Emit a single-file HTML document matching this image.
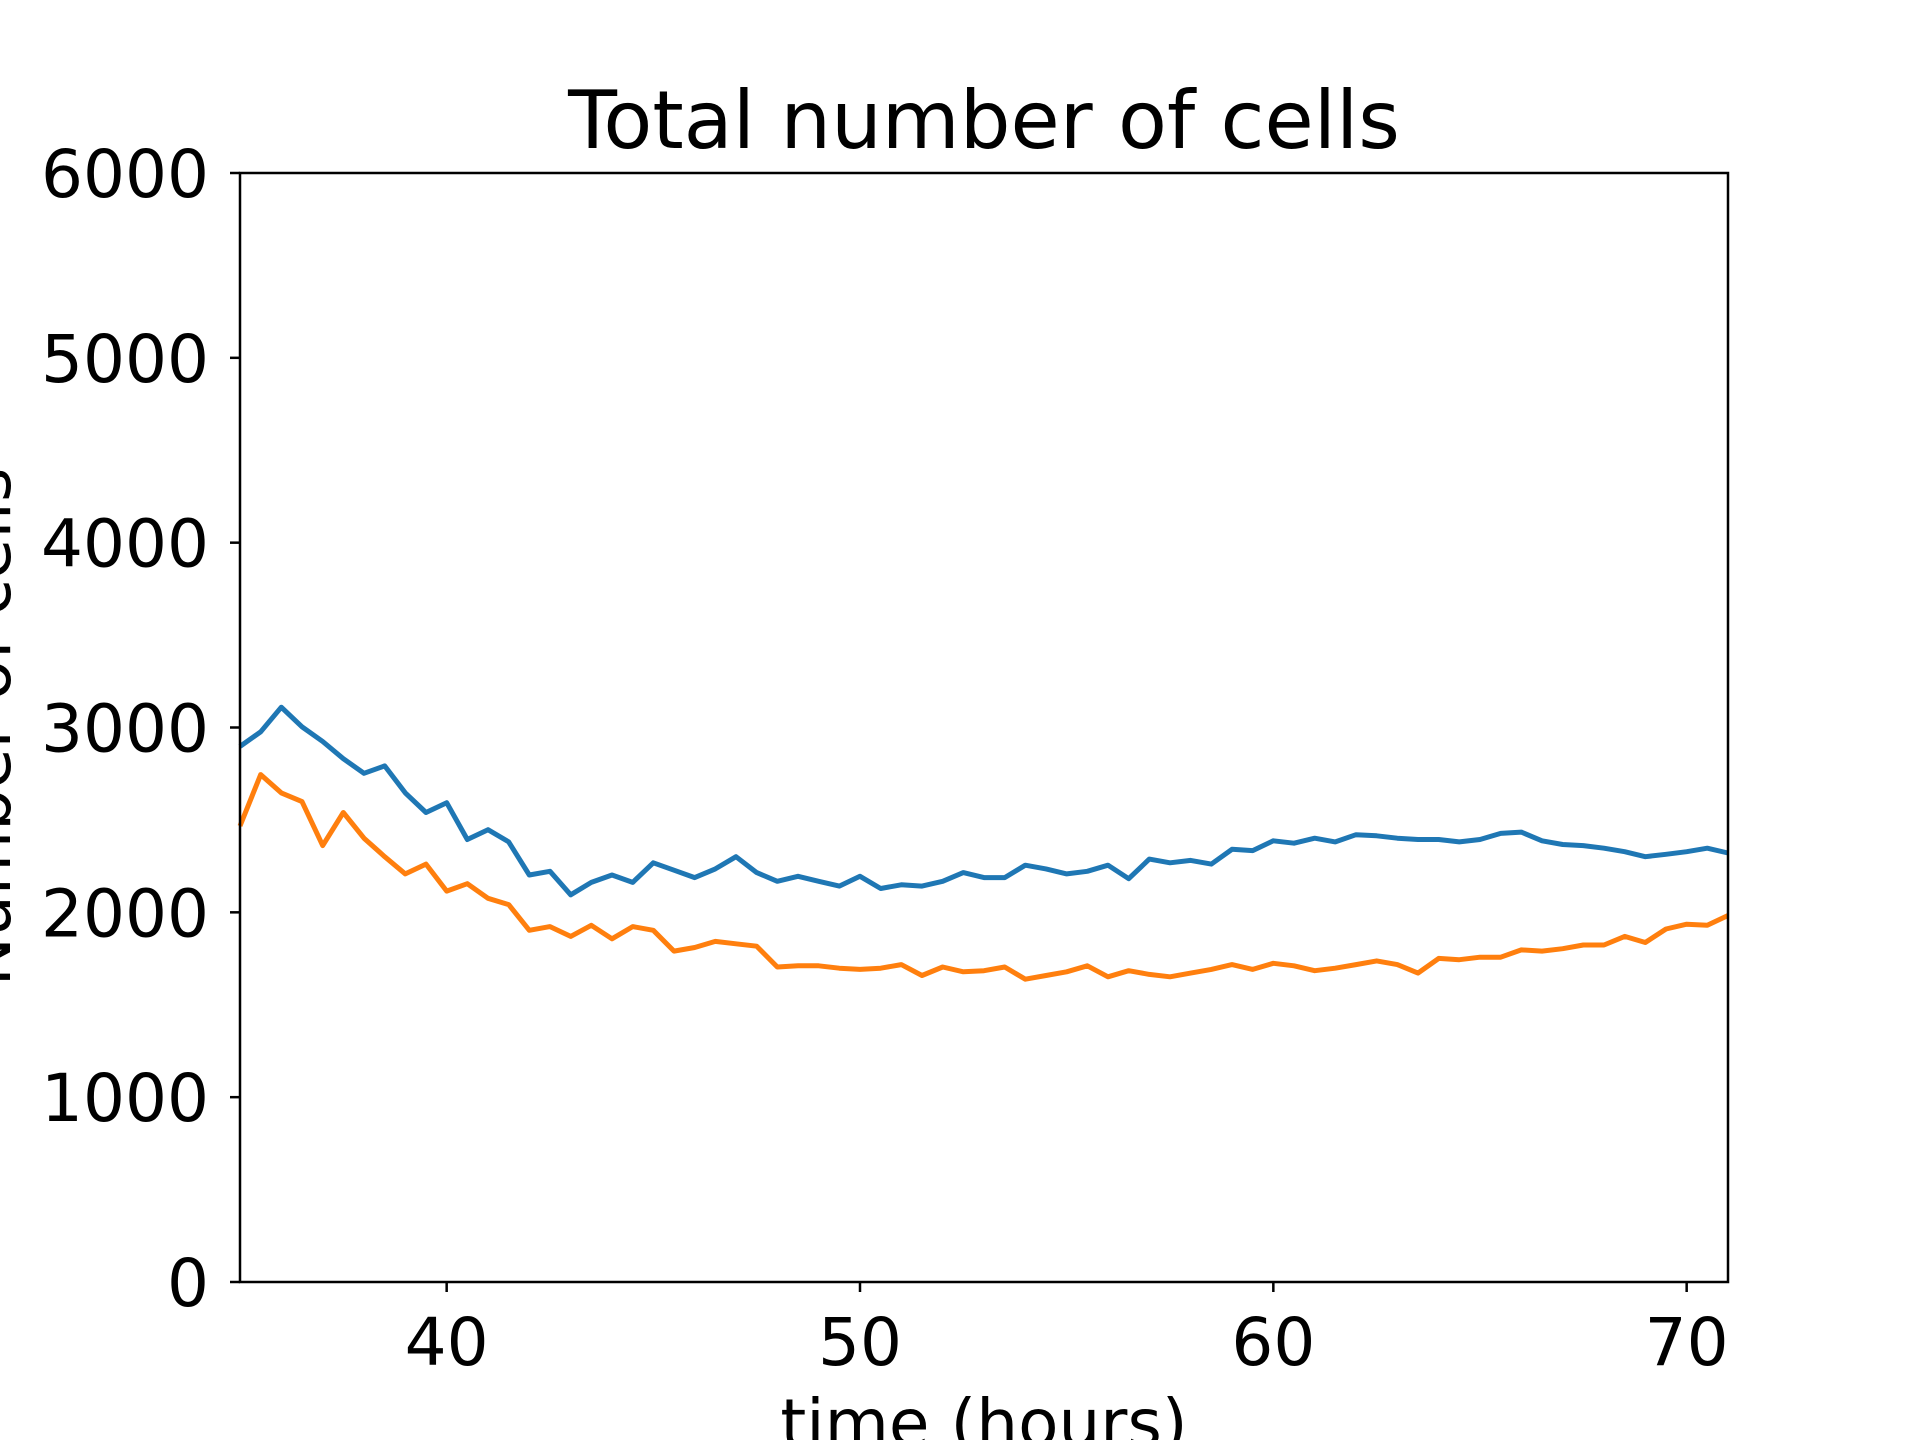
<!DOCTYPE html>
<html><head><meta charset="utf-8"><style>
html,body{margin:0;padding:0;background:#fff;}
svg{display:block;font-family:"DejaVu Sans","Liberation Sans",sans-serif;}
</style></head><body>
<svg id="chart" width="1920" height="1440" viewBox="0 0 1920 1440" xmlns="http://www.w3.org/2000/svg">
<rect width="1920" height="1440" fill="#fff"/>
<text x="984" y="148" font-size="80" text-anchor="middle">Total number of cells</text>
<text x="984" y="1446" font-size="66" text-anchor="middle">time (hours)</text>
<text transform="translate(10,727) rotate(-90)" font-size="66" text-anchor="middle">Number of cells</text>
<g id="ticks"></g>
<g id="series"></g>
<rect x="240" y="173" width="1488" height="1109" fill="none" stroke="#000" stroke-width="2.5"/>
</svg>
<script>
const xTicks = [40, 50, 60, 70];
const yTicks = [0, 1000, 2000, 3000, 4000, 5000, 6000];
const times = [35,35.5,36,36.5,37,37.5,38,38.5,39,39.5,40,40.5,41,41.5,42,42.5,43,43.5,44,44.5,45,45.5,46,46.5,47,47.5,48,48.5,49,49.5,50,50.5,51,51.5,52,52.5,53,53.5,54,54.5,55,55.5,56,56.5,57,57.5,58,58.5,59,59.5,60,60.5,61,61.5,62,62.5,63,63.5,64,64.5,65,65.5,66,66.5,67,67.5,68,68.5,69,69.5,70,70.5,71];
const blueValues = [2898,2977,3110,3004,2924,2831,2752,2792,2646,2540,2593,2394,2447,2381,2202,2222,2095,2162,2202,2162,2268,2228,2188,2235,2301,2215,2168,2195,2168,2142,2195,2129,2149,2142,2168,2215,2188,2188,2255,2235,2208,2222,2255,2182,2288,2268,2281,2261,2341,2334,2387,2374,2401,2381,2420,2414,2401,2394,2394,2381,2394,2427,2434,2387,2367,2361,2347,2328,2301,2314,2328,2347,2321];
const orangeValues = [2467,2745,2646,2599,2361,2540,2401,2301,2208,2261,2115,2155,2076,2042,1903,1923,1870,1930,1857,1923,1903,1790,1810,1843,1830,1817,1704,1711,1711,1698,1691,1698,1717,1658,1704,1678,1684,1704,1638,1658,1678,1711,1651,1684,1664,1651,1671,1691,1717,1691,1724,1711,1684,1698,1717,1737,1717,1671,1751,1744,1757,1757,1797,1790,1803,1823,1823,1870,1837,1910,1936,1930,1983];

const L=240,R=1728,T=173,B=1282,xMin=35,xMax=71,yMin=0,yMax=6000;
const xs=v=>L+(v-xMin)/(xMax-xMin)*(R-L);
const ys=v=>B-(v-yMin)/(yMax-yMin)*(B-T);
const NS="http://www.w3.org/2000/svg";
const tg=document.getElementById('ticks'), sg=document.getElementById('series');
function mk(tag,attrs,parent){const e=document.createElementNS(NS,tag);for(const k in attrs)e.setAttribute(k,attrs[k]);parent.appendChild(e);return e;}
xTicks.forEach(t=>{
  const x=xs(t);
  const l=mk('line',{x1:x,x2:x,y1:B,y2:B+10,stroke:'#000','stroke-width':2.5},tg);
  
  
  const tx=mk('text',{x:x,y:B+83,'font-size':66,'text-anchor':'middle'},tg);
  tx.textContent=t;
  
  
});
yTicks.forEach(t=>{
  const y=ys(t);
  const l=mk('line',{x1:L-10,x2:L,y1:y,y2:y,stroke:'#000','stroke-width':2.5},tg);
  
  
  const tx=mk('text',{x:L-31,y:y+24,'font-size':66,'text-anchor':'end'},tg);
  tx.textContent=t;
  
  
});
function line(vals,color,name){
  const d=vals.map((v,i)=>(i?'L':'M')+xs(times[i]).toFixed(1)+','+ys(v).toFixed(1)).join(' ');
  const p=mk('path',{d:d,fill:'none',stroke:color,'stroke-width':5,'stroke-linejoin':'round'},sg);
  
  
}
line(blueValues,'#1f77b4','blue-series-line');
line(orangeValues,'#ff7f0e','orange-series-line');
</script>
</body></html>
